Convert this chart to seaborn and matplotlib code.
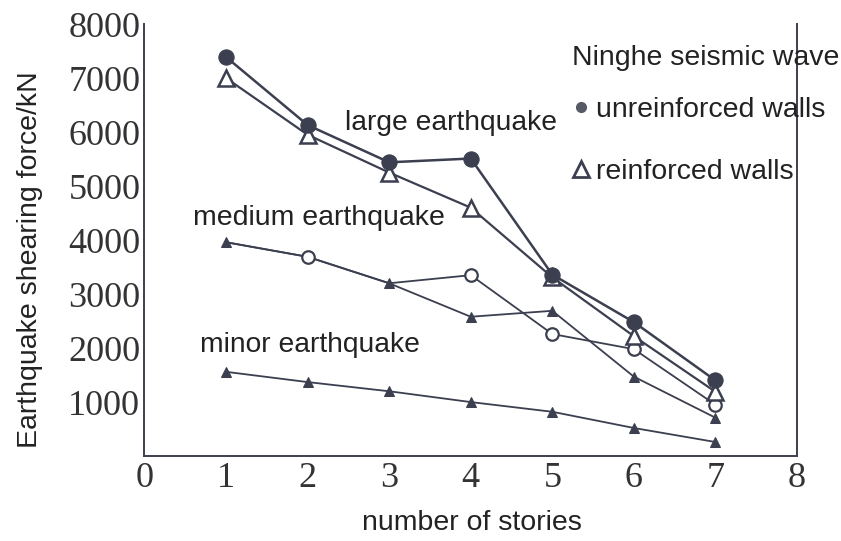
import matplotlib
matplotlib.use("Agg")
import matplotlib.pyplot as plt
from matplotlib.lines import Line2D
import seaborn as sns
import pandas as pd

stories = [1, 2, 3, 4, 5, 6, 7]
large_unreinforced = [7390, 6130, 5440, 5510, 3360, 2480, 1400]
large_reinforced = [7000, 5950, 5250, 4600, 3310, 2220, 1190]
medium_circles = [3960, 3690, 3200, 3350, 2260, 1980, 950]
medium_triangles = [3960, 3690, 3200, 2580, 2690, 1470, 710]
minor = [1560, 1370, 1200, 1000, 820, 520, 260]

x_ticks = [0, 1, 2, 3, 4, 5, 6, 7, 8]
y_ticks = [1000, 2000, 3000, 4000, 5000, 6000, 7000, 8000]

sns.set_style("white")
plt.rcParams["font.family"] = ["Liberation Sans", "DejaVu Sans"]

C = "#3b3f4f"
fig = plt.figure(figsize=(8.41, 5.41), dpi=100)
ax = fig.add_axes([0.1718, 0.157, 0.7759, 0.7985])

sns.lineplot(x=stories, y=medium_triangles, ax=ax, color=C, lw=1.3, marker="^",
             markersize=7, markerfacecolor=C, markeredgecolor=C,
             markevery=[0, 2, 3, 4, 5, 6], zorder=3)
sns.lineplot(x=stories, y=medium_circles, ax=ax, color=C, lw=1.3, marker="o",
             markersize=9, markerfacecolor="white", markeredgecolor=C,
             markeredgewidth=1.6, markevery=[1, 3, 4, 5, 6], zorder=4)
sns.lineplot(x=stories, y=minor, ax=ax, color=C, lw=1.3, marker="^",
             markersize=7, markerfacecolor=C, markeredgecolor=C, zorder=3)
sns.lineplot(x=stories, y=large_reinforced, ax=ax, color=C, lw=1.6, marker="^",
             markersize=11, markerfacecolor="white", markeredgecolor=C,
             markeredgewidth=1.8, zorder=4)
sns.lineplot(x=stories, y=large_unreinforced, ax=ax, color=C, lw=1.8, marker="o",
             markersize=11, markerfacecolor=C, markeredgecolor=C, zorder=5)

ax.set_xlim(0, 8)
ax.set_ylim(0, 8000)
ax.set_xticks(x_ticks)
ax.set_yticks(y_ticks)
ax.set_xticklabels([str(v) for v in x_ticks], family="Liberation Serif", fontsize=26, color="#333333")
ax.set_yticklabels([str(v) for v in y_ticks], family="Liberation Serif", fontsize=26, color="#333333")
ax.tick_params(direction="in", length=8, width=1.2, color=C, pad=4)
ax.tick_params(axis="y", pad=3)
for s in ax.spines.values():
    s.set_visible(True)
    s.set_color(C)
    s.set_linewidth(1.4)
ax.spines["top"].set_visible(False)

ax.set_xlabel("number of stories", fontsize=20.5, color="#222222")
ax.set_ylabel("Earthquake shearing force/kN", fontsize=20.5, color="#222222")
ax.xaxis.set_label_coords(0.502, -0.125)
ax.yaxis.set_label_coords(-0.156, 0.4537)

ax.text(2.46, 6170, "large earthquake", fontsize=20.3, color="#222222", ha="left", va="center")
ax.text(0.59, 4410, "medium earthquake", fontsize=20.5, color="#222222", ha="left", va="center")
ax.text(0.68, 2060, "minor earthquake", fontsize=20.3, color="#222222", ha="left", va="center")

handles = [
    Line2D([], [], ls="none", marker="o", markersize=7, color="#555a66"),
    Line2D([], [], ls="none", marker="^", markersize=12, markerfacecolor="white",
           markeredgecolor=C, markeredgewidth=2),
]
leg = ax.legend(handles, ["unreinforced walls", "reinforced walls"],
                title="Ninghe seismic wave", loc="upper left",
                bbox_to_anchor=(572 / 841, 1 - 45 / 541), bbox_transform=fig.transFigure,
                frameon=False, fontsize=20.5, title_fontsize=20.5, handlelength=0.6,
                handletextpad=0.25, labelspacing=1.25, borderaxespad=0, borderpad=0)
leg._legend_box.align = "left"
leg._legend_box.sep = 19.0
leg.set_clip_on(False)
for t in leg.get_texts():
    t.set_color("#222222")
leg.get_title().set_color("#222222")

fig.savefig("out.png", dpi=100, facecolor="white")
